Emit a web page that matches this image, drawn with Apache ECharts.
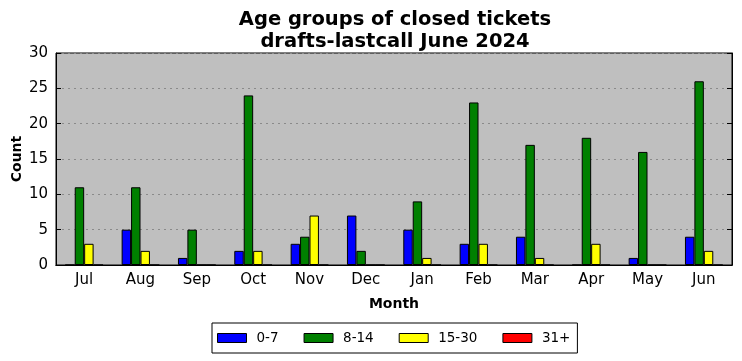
<!DOCTYPE html>
<html><head><meta charset="utf-8">
<script src="https://cdn.jsdelivr.net/npm/echarts@6/dist/echarts.min.js"></script>
<style>html,body{margin:0;padding:0;background:#fff}#c{width:742px;height:361px}</style>
</head><body><div id="c"></div>
<script>
const months = ['Jul','Aug','Sep','Oct','Nov','Dec','Jan','Feb','Mar','Apr','May','Jun'];
const age0_7   = [0,5,1,2,3,7,5,3,4,0,1,4];
const age8_14  = [11,11,5,24,4,2,9,23,17,18,16,26];
const age15_30 = [3,2,0,2,7,0,1,3,1,3,0,2];
const age31p   = [0,0,0,0,0,0,0,0,0,0,0,0];
const yTicks = [0,5,10,15,20,25,30];

const F = 'DejaVu Sans';
const chart = echarts.init(document.getElementById('c'), null, {renderer:'canvas'});
function bar(name, data, color){
  return {name, type:'bar', data, barGap:'0%', barCategoryGap:'33%',
    itemStyle:{color, borderColor:'#000', borderWidth:1}, emphasis:{disabled:true}};
}
chart.setOption({
  animation:false,
  textStyle:{fontFamily:F},
  title:{text:'Age groups of closed tickets\ndrafts-lastcall June 2024', left:390, textAlign:'center', top:4,
    textStyle:{fontFamily:F, fontSize:19.5, fontWeight:'bold', color:'#000', lineHeight:22}},
  grid:{left:56, right:10, top:53, bottom:96, outerBoundsMode:'none', containLabel:false,
    show:true, backgroundColor:'#bfbfbf', borderColor:'#000', borderWidth:1},
  legend:{bottom:8, left:212, itemWidth:29, itemHeight:9, itemGap:25,
    borderColor:'#000', borderWidth:1, padding:[8,7,8,5], borderRadius:0,
    textStyle:{fontFamily:F, fontSize:13.5, color:'#000', padding:[2,0,0,5]},
    itemStyle:{borderColor:'#000', borderWidth:1},
    data:['0-7','8-14','15-30','31+'].map(n=>({name:n, icon:'rect'}))},
  xAxis:[{type:'category', data:months, position:'bottom',
    axisLine:{lineStyle:{color:'#000'}}, axisTick:{alignWithLabel:true, inside:true, length:5, lineStyle:{color:'#000'}},
    axisLabel:{fontFamily:F, fontSize:15, color:'#000', margin:8},
    name:'Month', nameLocation:'middle', nameGap:32, nameMoveOverlap:false,
    nameTextStyle:{fontFamily:F, fontSize:14, fontWeight:'bold', color:'#000'}},
    {type:'category', data:months, position:'top',
    axisLine:{lineStyle:{color:'#000'}}, axisTick:{alignWithLabel:true, inside:true, length:5, lineStyle:{color:'#000'}},
    axisLabel:{show:false}}],
  yAxis:[{type:'value', min:0, max:30, interval:5, position:'left',
    axisLine:{show:true, lineStyle:{color:'#000'}}, axisTick:{show:true, inside:true, length:5, lineStyle:{color:'#000'}},
    axisLabel:{fontFamily:F, fontSize:15, color:'#000', margin:8, formatter:v=>yTicks.includes(v)?String(v):''},
    splitLine:{show:true, lineStyle:{color:'#8a8a8a', type:[2,4], width:1}},
    name:'Count', nameLocation:'middle', nameGap:32, nameMoveOverlap:false,
    nameTextStyle:{fontFamily:F, fontSize:14, fontWeight:'bold', color:'#000'}},
    {type:'value', min:0, max:30, interval:5, position:'right',
    axisLine:{show:true, lineStyle:{color:'#000'}}, axisTick:{show:true, inside:true, length:5, lineStyle:{color:'#000'}},
    axisLabel:{show:false}, splitLine:{show:false}}],
  series:[bar('0-7',age0_7,'#0000ff'), bar('8-14',age8_14,'#008000'), bar('15-30',age15_30,'#ffff00'), bar('31+',age31p,'#ff0000')]
});
</script></body></html>
